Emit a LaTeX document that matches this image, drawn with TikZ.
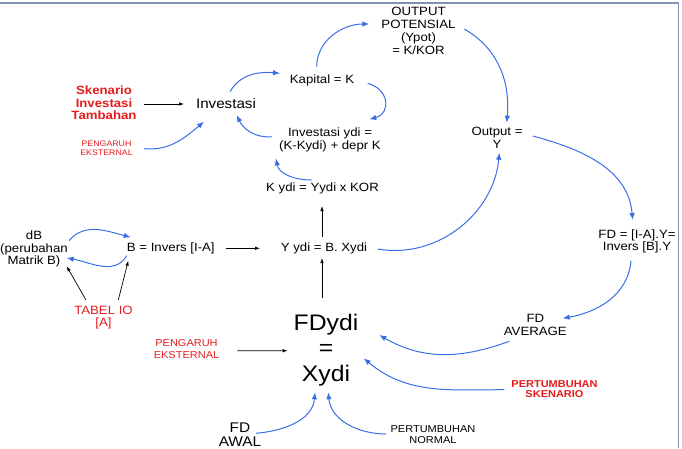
\documentclass[tikz,border=0pt]{standalone}
\usepackage{fontspec}
\setmainfont{Liberation Sans}[FakeStretch=1.1]
\usetikzlibrary{arrows.meta,calc}
\definecolor{bluec}{RGB}{58,110,230}
\definecolor{redc}{RGB}{228,28,28}
\definecolor{framec}{RGB}{128,148,178}
\newcommand{\fsz}[2]{\fontsize{#1}{#2}\selectfont}
\begin{document}
\begin{tikzpicture}[x=1pt,y=1pt,
  lbl/.style={inner sep=0pt, outer sep=0pt, anchor=base, align=center},
  norm/.style={lbl, font=\fsz{12}{13}},
  redlbl/.style={lbl, text=redc},
  barr/.style={draw=bluec, line width=1pt, -{Latex[length=7pt,width=5.5pt]}},
  karr/.style={draw=black, line width=0.7pt, -{Latex[length=5pt,width=3.5pt]}},
  framel/.style={draw=framec, line width=1.5pt}
]
\useasboundingbox (0,0) rectangle (682,-448);
\draw[framel] (0,-3) -- (678.7,-3) -- (678.7,-448);

% nodes (anchor = baseline of the last line)
\node[norm] (outpot) at (418.5,-54) {OUTPUT\\POTENSIAL\\(Ypot)\\= K/KOR};
\node[norm] (kap) at (322,-83.3) {Kapital = K};
\node[redlbl, font=\bfseries\fsz{12}{12.8}] (sken) at (104,-119.9) {Skenario\\Investasi\\Tambahan};
\node[lbl, font=\fsz{13.8}{14}] (inv) at (226,-108.3) {Investasi};
\node[redlbl, font=\fsz{8}{8.3}] (peng1) at (106.5,-155) {PENGARUH\\EKSTERNAL};
\node[norm] (invydi) at (330,-149) {Investasi ydi =\\(K-Kydi) + depr K};
\node[norm] (kydi) at (322.5,-191.5) {K ydi = Yydi x KOR};
\node[norm] (output) at (497,-148) {Output =\\Y};
\node[norm] (yydi) at (324,-251.7) {Y ydi = B. Xydi};
\node[norm] (binv) at (170.8,-251.7) {B = Invers [I-A]};
\node[lbl, font=\fsz{12}{12.5}] (db) at (34,-264.7) {dB\\(perubahan\\Matrik B)};
\node[redlbl, font=\fsz{12}{11.5}] (tabel) at (103.5,-326.2) {TABEL IO\\{[A]}};
\node[lbl, font=\fsz{22.5}{25.8}] (fd) at (326,-381.6) {FDydi\\=\\Xydi};
\node[redlbl, font=\fsz{10}{11.3}] (peng2) at (186.5,-358) {PENGARUH\\EKSTERNAL};
\node[lbl, font=\fsz{12}{12.7}] (fdavg) at (535.3,-335) {FD\\AVERAGE};
\node[lbl, font=\fsz{12}{12.7}] (fdia) at (637,-250.7) {FD = [I-A].Y=\\{Invers [B].Y}};
\node[redlbl, font=\bfseries\fsz{10}{10.4}] (ptsk) at (554.5,-397.7) {PERTUMBUHAN\\SKENARIO};
\node[lbl, font=\fsz{10}{10.7}] (ptnorm) at (433,-443) {PERTUMBUHAN\\NORMAL};
\node[lbl, font=\fsz{14}{13.7}] (fdawal) at (240,-446) {FD\\AWAL};

% black connectors
\draw[karr] ($(sken.base)+(40,15.9)$) -- ($(inv.base)+(-42,4.3)$);
\draw[karr] ($(yydi.base)+(-2,15)$) -- ($(kydi.base)+(-0.5,-14.5)$);
\draw[karr] ($(peng2.base)+(50.8,7.3)$) -- ($(fd.base)+(-38.3,30.9)$);
\draw[karr] ($(fd.base)+(-4,83.6)$) -- ($(yydi.base)+(-2,-6.3)$);
\draw[karr] ($(binv.base)+(54.9,3.4)$) -- ($(yydi.base)+(-64,3.4)$);
\draw[karr] ($(tabel.base)+(-17.5,26.2)$) -- ($(db.base)+(32.7,-1.6)$);
\draw[karr] ($(tabel.base)+(14.8,26.2)$) -- ($(binv.base)+(-42.5,-9)$);

% blue connectors
\draw[barr] ($(peng1.base)+(37.5,6.3)$) to[out=-5,in=-140] ($(inv.base)+(-22,-13.4)$);
\draw[barr] ($(inv.base)+(4,16.6)$) to[out=60,in=175] ($(kap.base)+(-42,10)$);
\draw[barr] ($(kap.base)+(-5.3,16.6)$) to[out=90,in=180] ($(outpot.base)+(-49.2,30)$);
\draw[barr] ($(outpot.base)+(45.8,25)$) to[out=-30,in=85] ($(output.base)+(9.7,25.3)$);
\draw[barr] ($(kap.base)+(45.7,0)$) to[out=-15,in=15,looseness=1.6] ($(invydi.base)+(39.3,29.7)$);
\draw[barr] ($(invydi.base)+(-58.3,12.3)$) to[out=185,in=-65] ($(inv.base)+(10.7,-6.7)$);
\draw[barr] ($(kydi.base)+(-10.8,11.5)$) to[out=180,in=-80] ($(invydi.base)+(-54,-9.3)$);
\draw[barr] ($(yydi.base)+(53.7,2.7)$) to[out=-10,in=-95] ($(output.base)+(2.3,-4.7)$);
\draw[barr] ($(output.base)+(35.7,12)$) to[out=-15,in=95] ($(fdia.base)+(-4.3,30.7)$);
\draw[barr] ($(fdia.base)+(-6,-10)$) to[out=-95,in=10] ($(fdavg.base)+(27.4,16.7)$);
\draw[barr] ($(fdavg.base)+(-26,-6.3)$) to[out=200,in=-30] ($(fd.base)+(53.3,46.6)$);
\draw[barr] ($(ptsk.base)+(-50.2,8)$) to[out=180,in=-40] ($(fd.base)+(37.7,23.3)$);
\draw[barr] ($(ptnorm.base)+(-47,9)$) to[out=180,in=-85] ($(fd.base)+(2.3,-10.7)$);
\draw[barr] ($(fdawal.base)+(16,12.7)$) to[out=5,in=-95] ($(fd.base)+(-11,-10.7)$);
\draw[barr] ($(db.base)+(35,24)$) to[out=50,in=165] ($(binv.base)+(-40.1,14.4)$);
\draw[barr] ($(binv.base)+(-44.1,-4)$) to[out=-120,in=-10] ($(db.base)+(32.7,6.7)$);
\end{tikzpicture}
\end{document}
